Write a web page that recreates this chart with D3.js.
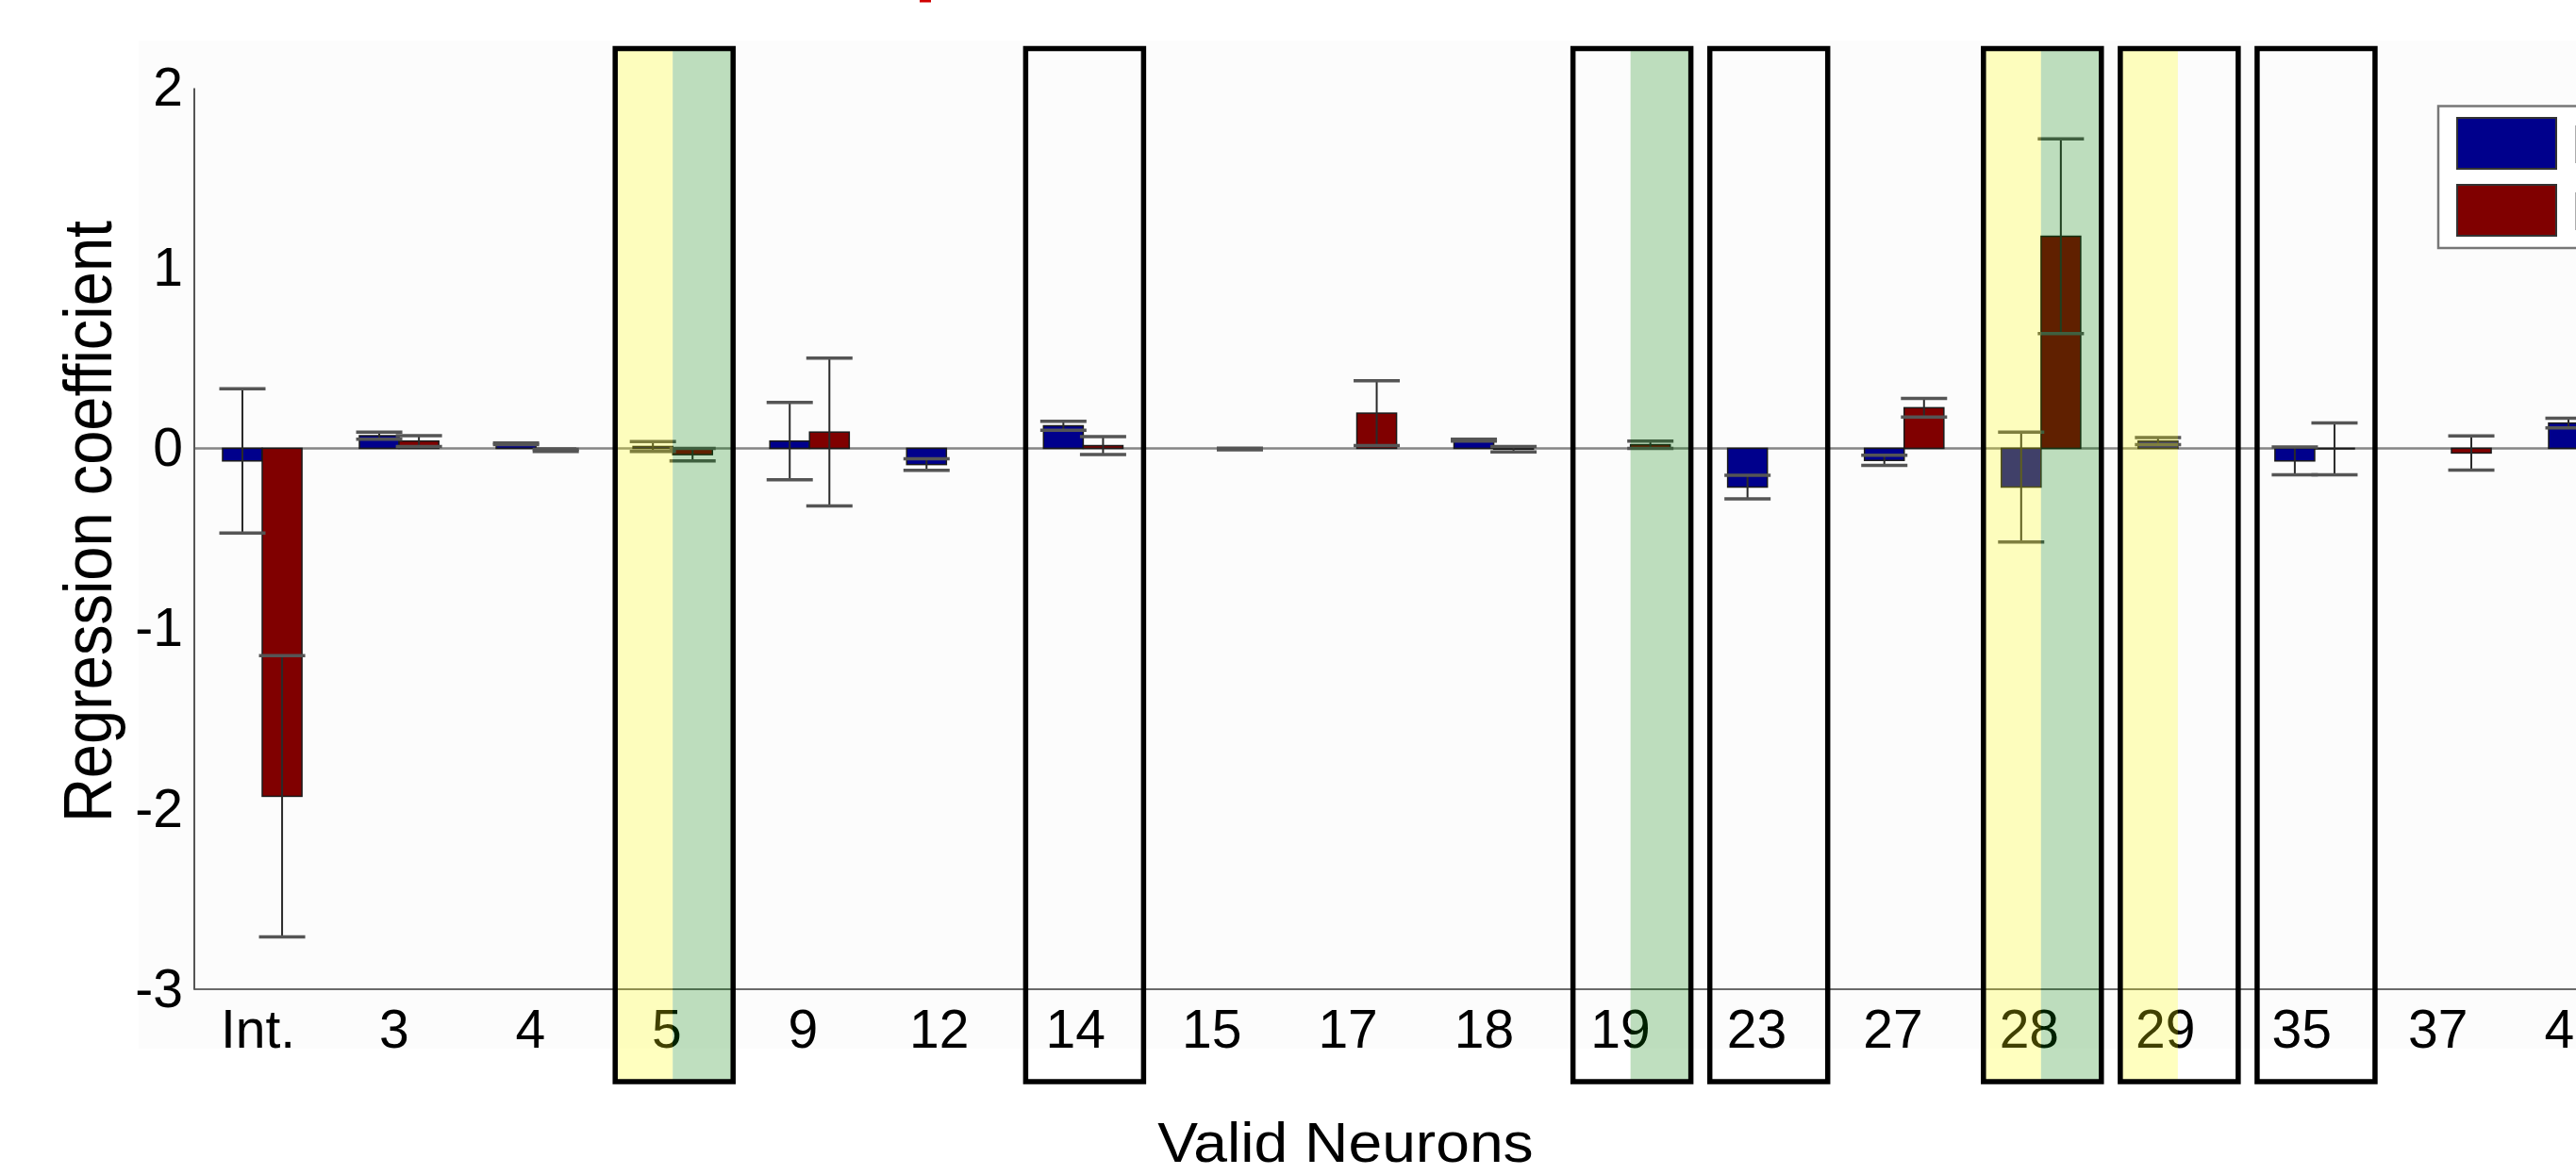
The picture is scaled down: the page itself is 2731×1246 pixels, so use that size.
<!DOCTYPE html>
<html>
<head>
<meta charset="utf-8">
<script src="https://cdn.jsdelivr.net/npm/d3@7"></script>
<style>
  body { margin: 0; background: #fff; overflow: hidden; }
  text { font-family: "Liberation Sans", Arial, sans-serif; fill: #000; }
</style>
</head>
<body>
<div class="chart"></div>
<script>
// categories on the x axis (neuron ids)
const categories = ["Int.", "3", "4", "5", "9", "12", "14", "15", "17", "18", "19", "23", "27", "28", "29", "35", "37", "40"];
const seriesNames = ["Phase 1", "Phase 2"];

// regression coefficients and error bar half-widths
const blueValues = [-0.07, 0.07, 0.025, 0.01, 0.04, -0.09, 0.125, 0, 0, 0.045, 0, -0.215, -0.067, -0.215, 0.04, -0.07, 0, 0.14];
const blueErrors = [0.40, 0.02, 0.004, 0.027, 0.215, 0.032, 0.025, 0, 0, 0.005, 0, 0.065, 0.028, 0.305, 0.02, 0.077, 0, 0.027];
const redValues  = [-1.93, 0.04, -0.012, -0.035, 0.09, 0, 0.015, -0.004, 0.195, -0.005, 0.02, 0, 0.225, 1.176, 0, -0.003, -0.026, 0];
const redErrors  = [0.78, 0.03, 0.006, 0.035, 0.41, 0, 0.05, 0.005, 0.18, 0.015, 0.02, 0, 0.052, 0.54, 0, 0.144, 0.095, 0];

// highlighted neurons
const boxedCats = ["5", "14", "19", "23", "28", "29", "35"];
const yellowCats = ["5", "28", "29"];
const greenCats = ["5", "19", "28"];

const yTicks = [-3, -2, -1, 0, 1, 2];

const width = 2731, height = 1246;
const svg = d3.select(".chart").append("svg")
  .attr("width", width)
  .attr("height", height);

// faint grey plot background
svg.append("rect")
  .attr("x", 147).attr("y", 43)
  .attr("width", width - 147).attr("height", 1112 - 43)
  .attr("fill", "#fcfcfc");

// little red fragment of a cut-off title
svg.append("rect")
  .attr("x", 975).attr("y", 0).attr("width", 12).attr("height", 2.5)
  .attr("fill", "#d00000");

const y = d3.scaleLinear().domain([-3, 2]).range([1049, 93]);
const x = d3.scaleBand()
  .domain(categories)
  .range([205.5, 205.5 + 145.06 * categories.length])
  .paddingInner(0.42)
  .paddingOuter(0.21);
const xs = d3.scaleBand().domain(["blue", "red"]).range([0, x.bandwidth()]);
// tick labels sit on a slightly tighter grid than the bars
const xLabel = d3.scalePoint()
  .domain(categories)
  .range([273, 273 + 144.45 * (categories.length - 1)]);

const color = { blue: "#00008c", red: "#800000" };

// zero line and x axis line
svg.append("line")
  .attr("x1", 205.5).attr("x2", width)
  .attr("y1", y(0)).attr("y2", y(0))
  .attr("stroke", "#858585").attr("stroke-width", 2.5);
svg.append("line")
  .attr("x1", 205.5).attr("x2", width)
  .attr("y1", y(-3)).attr("y2", y(-3))
  .attr("stroke", "#6a6a6a").attr("stroke-width", 2);

// y axis
const yAxis = svg.append("g")
  .attr("transform", "translate(205.5,0)")
  .call(d3.axisLeft(y).tickValues(yTicks).tickSize(0).tickPadding(11.5).tickFormat(d => String(d)));
yAxis.select(".domain").attr("stroke", "#555").attr("stroke-width", 2);
yAxis.selectAll("text")
  .style("font-family", "Liberation Sans, Arial, sans-serif")
  .style("font-size", "57px")
  .attr("fill", "#000");

// x axis labels
const xAxis = svg.append("g")
  .attr("transform", `translate(0,${y(-3)})`)
  .call(d3.axisBottom(xLabel).tickSize(0).tickPadding(22));
xAxis.select(".domain").remove();
xAxis.selectAll("text")
  .style("font-family", "Liberation Sans, Arial, sans-serif")
  .style("font-size", "57px")
  .attr("fill", "#000");

// axis titles
svg.append("text")
  .attr("transform", "translate(118,553) scale(1.1,1) rotate(-90)")
  .attr("text-anchor", "middle")
  .style("font-size", "65px")
  .text("Regression coefficient");
svg.append("text")
  .attr("transform", "translate(1426.5,1232) scale(1.07,1)")
  .attr("text-anchor", "middle")
  .style("font-size", "60px")
  .text("Valid Neurons");

// flatten into bar records
const bars = [];
categories.forEach((c, i) => {
  bars.push({ cat: c, key: "blue", value: blueValues[i], err: blueErrors[i] });
  bars.push({ cat: c, key: "red", value: redValues[i], err: redErrors[i] });
});

svg.append("g").selectAll("rect")
  .data(bars.filter(d => d.value !== 0))
  .join("rect")
  .attr("x", d => x(d.cat) + xs(d.key))
  .attr("width", xs.bandwidth())
  .attr("y", d => y(Math.max(0, d.value)))
  .attr("height", d => Math.abs(y(d.value) - y(0)))
  .attr("fill", d => color[d.key])
  .attr("stroke", "#1a1a1a")
  .attr("stroke-width", 1.5);

// error bars
const capHalf = 24.5;
const eb = svg.append("g").selectAll("g")
  .data(bars.filter(d => d.err > 0))
  .join("g")
  .attr("transform", d => `translate(${x(d.cat) + xs(d.key) + xs.bandwidth() / 2},0)`);
eb.append("line")
  .attr("y1", d => y(d.value + d.err))
  .attr("y2", d => y(d.value - d.err))
  .attr("stroke", "#2a2a2a").attr("stroke-width", 2);
eb.append("line")
  .attr("x1", -capHalf).attr("x2", capHalf)
  .attr("y1", d => y(d.value + d.err)).attr("y2", d => y(d.value + d.err))
  .attr("stroke", "#555").attr("stroke-width", 3.5);
eb.append("line")
  .attr("x1", -capHalf).attr("x2", capHalf)
  .attr("y1", d => y(d.value - d.err)).attr("y2", d => y(d.value - d.err))
  .attr("stroke", "#555").attr("stroke-width", 3.5);

// highlight stripes drawn over the bars
const boxTop = 51.5, boxBottom = 1147;
const centerOf = c => x(c) + x.bandwidth() / 2;
svg.append("g").selectAll("rect")
  .data(yellowCats)
  .join("rect")
  .attr("x", c => centerOf(c) - 63)
  .attr("width", 63)
  .attr("y", boxTop).attr("height", boxBottom - boxTop)
  .attr("fill", "rgba(255,255,0,0.25)");
svg.append("g").selectAll("rect")
  .data(greenCats)
  .join("rect")
  .attr("x", c => centerOf(c))
  .attr("width", 66)
  .attr("y", boxTop).attr("height", boxBottom - boxTop)
  .attr("fill", "rgba(0,128,0,0.25)");

// black boxes
svg.append("g").selectAll("rect")
  .data(boxedCats)
  .join("rect")
  .attr("x", c => centerOf(c) - 61)
  .attr("width", 125)
  .attr("y", boxTop).attr("height", boxBottom - boxTop)
  .attr("fill", "none")
  .attr("stroke", "#000")
  .attr("stroke-width", 5.5);

// legend (cut off by the right edge, as in the source figure)
const legend = svg.append("g");
legend.append("rect")
  .attr("x", 2585).attr("y", 112.5)
  .attr("width", 200).attr("height", 150.5)
  .attr("fill", "#fff").attr("stroke", "#777").attr("stroke-width", 2.5);
const li = legend.selectAll("g.item")
  .data(["blue", "red"])
  .join("g")
  .attr("class", "item")
  .attr("transform", (d, i) => `translate(2605,${125 + i * 71})`);
li.append("rect")
  .attr("width", 105).attr("height", 54)
  .attr("fill", d => color[d])
  .attr("stroke", "#333").attr("stroke-width", 2);
li.append("text")
  .attr("x", 121).attr("y", 48)
  .style("font-size", "57px")
  .text((d, i) => seriesNames[i]);
</script>
</body>
</html>
